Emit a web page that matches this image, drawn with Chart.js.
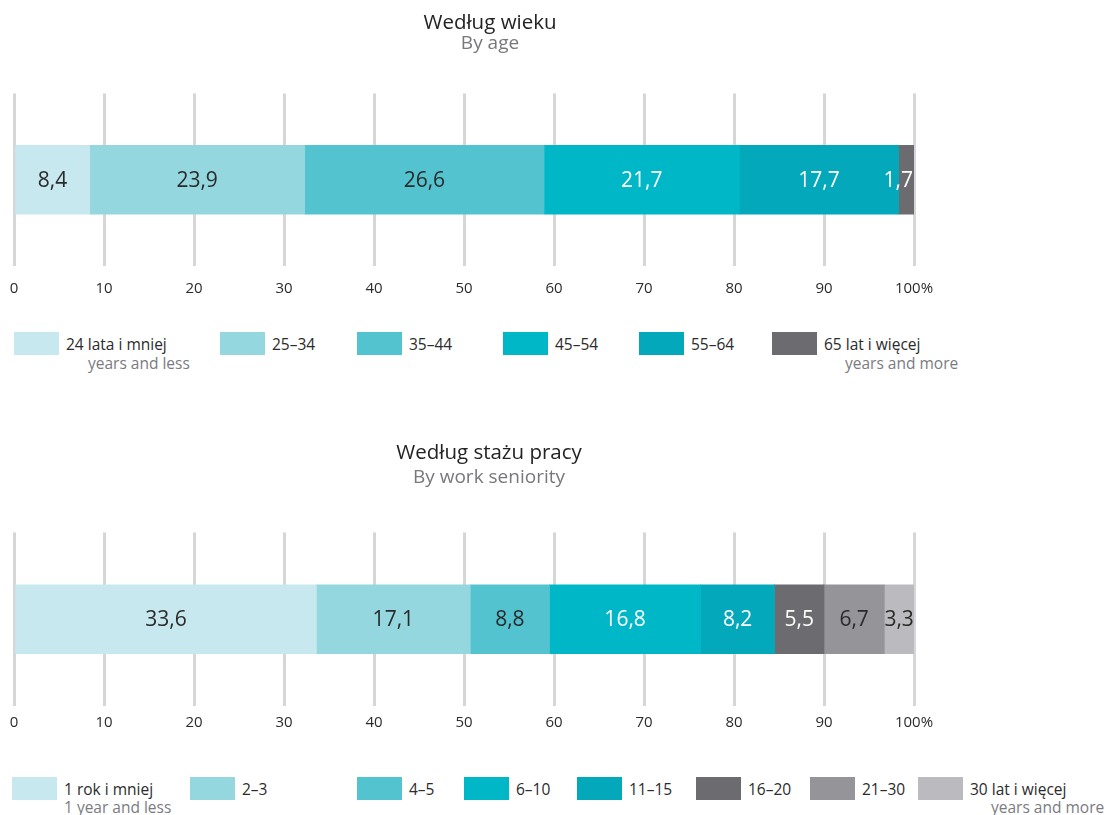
<!DOCTYPE html>
<html lang="pl">
<head>
<meta charset="utf-8">
<title>Według wieku / Według stażu pracy</title>
<script src="https://cdn.jsdelivr.net/npm/chart.js@4.4.1/dist/chart.umd.min.js"></script>
<style>
    body { margin: 0; background: #fff; font-family: 'Open Sans', sans-serif; }
    #strona { position: relative; width: 1106px; height: 815px; overflow: hidden; }
    canvas { position: absolute; left: 0; }
    .kolor { position: absolute; width: 45px; height: 23px; }
    .opis { position: absolute; font-size: 15.5px; line-height: 20px; color: #2b2b2b; white-space: nowrap; }
    .opis.en { color: #7b7b7f; }
</style>
</head>
<body>
<div id="strona">
    <canvas id="chartWiek" width="980" height="316" style="top:0"></canvas>
    <canvas id="chartStaz" width="980" height="314" style="top:430px"></canvas>
</div>
<script>
const tickLabels = ['0', '10', '20', '30', '40', '50', '60', '70', '80', '90', '100%'];

const wiekLabels = ['24 lata i mniej', '25–34', '35–44', '45–54', '55–64', '65 lat i więcej'];
const wiekLabelsEn = ['years and less', '', '', '', '', 'years and more'];
const wiekValues = [8.4, 23.9, 26.6, 21.7, 17.7, 1.7];

const stazLabels = ['1 rok i mniej', '2–3', '4–5', '6–10', '11–15', '16–20', '21–30', '30 lat i więcej'];
const stazLabelsEn = ['1 year and less', '', '', '', '', '', '', 'years and more'];
const stazValues = [33.6, 17.1, 8.8, 16.8, 8.2, 5.5, 6.7, 3.3];

const wiekColors = ['#c7e8ef', '#94d7df', '#53c3d0', '#00b7c7', '#03a8ba', '#6c6c70'];
const wiekTextColors = ['#2a2a2a', '#2a2a2a', '#2a2a2a', '#ffffff', '#ffffff', '#ffffff'];
const stazColors = ['#c7e8ef', '#94d7df', '#53c3d0', '#00b7c7', '#03a8ba', '#6c6c70', '#959599', '#bbbbbf'];
const stazTextColors = ['#2a2a2a', '#2a2a2a', '#2a2a2a', '#ffffff', '#ffffff', '#ffffff', '#2a2a2a', '#2a2a2a'];

Chart.defaults.font.family = "'Open Sans', sans-serif";

// etykiety wartości na środku każdego segmentu (wąskie dosunięte do prawej krawędzi)
const etykiety = {
    id: 'etykiety',
    afterDatasetsDraw(chart) {
        const ctx = chart.ctx;
        ctx.save();
        ctx.font = "21px 'Open Sans', sans-serif";
        ctx.textAlign = 'center';
        ctx.textBaseline = 'middle';
        chart.data.datasets.forEach((ds, i) => {
            const el = chart.getDatasetMeta(i).data[0];
            const txt = ds.data[0].toFixed(1).replace('.', ',');
            const w = ctx.measureText(txt).width;
            let x = (el.x + el.base) / 2;
            if (w > el.x - el.base) x = el.x - w / 2 - 1;
            ctx.fillStyle = ds.labelColor;
            ctx.fillText(txt, x, el.y + 1);
        });
        ctx.restore();
    }
};

iniciarWykres('chartWiek', 'Według wieku', 'By age', wiekLabels, wiekValues, wiekColors, wiekTextColors,
    {titleTop: 13, subTop: 0, subBottom: 40, tickPad: 14, extra: 52});
iniciarWykres('chartStaz', 'Według stażu pracy', 'By work seniority', stazLabels, stazValues, stazColors, stazTextColors,
    {titleTop: 13, subTop: 4, subBottom: 45, tickPad: 8, extra: 50});

rysujLegende(wiekLabels, wiekLabelsEn, wiekColors, {
    top: 332, textY: 334, enY: 353,
    x: [14, 220, 357, 503, 639, 772],
    enX: [88, null, null, null, null, 845]
});
rysujLegende(stazLabels, stazLabelsEn, stazColors, {
    top: 777, textY: 779, enY: 797,
    x: [12, 190, 357, 464, 577, 696, 810, 918],
    enX: [64, null, null, null, null, null, null, 991]
});

function iniciarWykres(id, tytul, podtytul, labels, values, colors, textColors, uklad) {
    const ctx = document.getElementById(id);

    const datasets = values.map((v, i) => ({
        label: labels[i],
        data: [v],
        backgroundColor: colors[i],
        labelColor: textColors[i],
        borderWidth: 0,
        barThickness: 69
    }));

    new Chart(ctx, {
        type: 'bar',
        data: { labels: [''], datasets },
        options: {
            indexAxis: 'y',
            responsive: false,
            animation: false,
            layout: { padding: { left: 14, right: 980 - 914 - uklad.extra, top: 0, bottom: 4 } },
            plugins: {
                legend: { display: false },
                tooltip: { enabled: false },
                title: {
                    display: true,
                    text: tytul,
                    color: '#232323',
                    font: { size: 20.5, weight: 'normal', lineHeight: 1 },
                    padding: { top: uklad.titleTop, bottom: 0 }
                },
                subtitle: {
                    display: true,
                    text: podtytul,
                    color: '#78787c',
                    font: { size: 19, weight: 'normal', lineHeight: 1.05 },
                    padding: { top: uklad.subTop, bottom: uklad.subBottom }
                }
            },
            scales: {
                x: {
                    stacked: true,
                    min: 0,
                    max: 100,
                    border: { display: false },
                    grid: { color: '#d6d6d6', lineWidth: 3, drawTicks: false },
                    ticks: {
                        stepSize: 10,
                        padding: uklad.tickPad,
                        color: '#2b2b2b',
                        font: { size: 15 },
                        maxRotation: 0,
                        callback: (v, i) => tickLabels[i]
                    },
                    // bez dodatkowego marginesu bocznego od etykiet osi
                    afterFit: (s) => { s.paddingLeft = 0; s.paddingRight = 0; }
                },
                y: {
                    stacked: true,
                    display: false
                },
                // pusta oś po prawej, żeby tytuł był przesunięty jak w oryginale
                y2: {
                    type: 'category',
                    labels: [''],
                    position: 'right',
                    grid: { display: false },
                    border: { display: false },
                    ticks: { display: false },
                    afterFit: (s) => { s.width = uklad.extra; }
                }
            }
        },
        plugins: [etykiety]
    });
}

function rysujLegende(labels, labelsEn, colors, poz) {
    const strona = document.getElementById('strona');
    labels.forEach((txt, i) => {
        const kolor = document.createElement('div');
        kolor.className = 'kolor';
        kolor.style.left = poz.x[i] + 'px';
        kolor.style.top = poz.top + 'px';
        kolor.style.background = colors[i];
        strona.appendChild(kolor);

        const opis = document.createElement('div');
        opis.className = 'opis';
        opis.textContent = txt;
        opis.style.left = (poz.x[i] + 52) + 'px';
        opis.style.top = poz.textY + 'px';
        strona.appendChild(opis);

        if (labelsEn[i]) {
            const en = document.createElement('div');
            en.className = 'opis en';
            en.textContent = labelsEn[i];
            en.style.left = poz.enX[i] + 'px';
            en.style.top = poz.enY + 'px';
            strona.appendChild(en);
        }
    });
}
</script>
</body>
</html>
